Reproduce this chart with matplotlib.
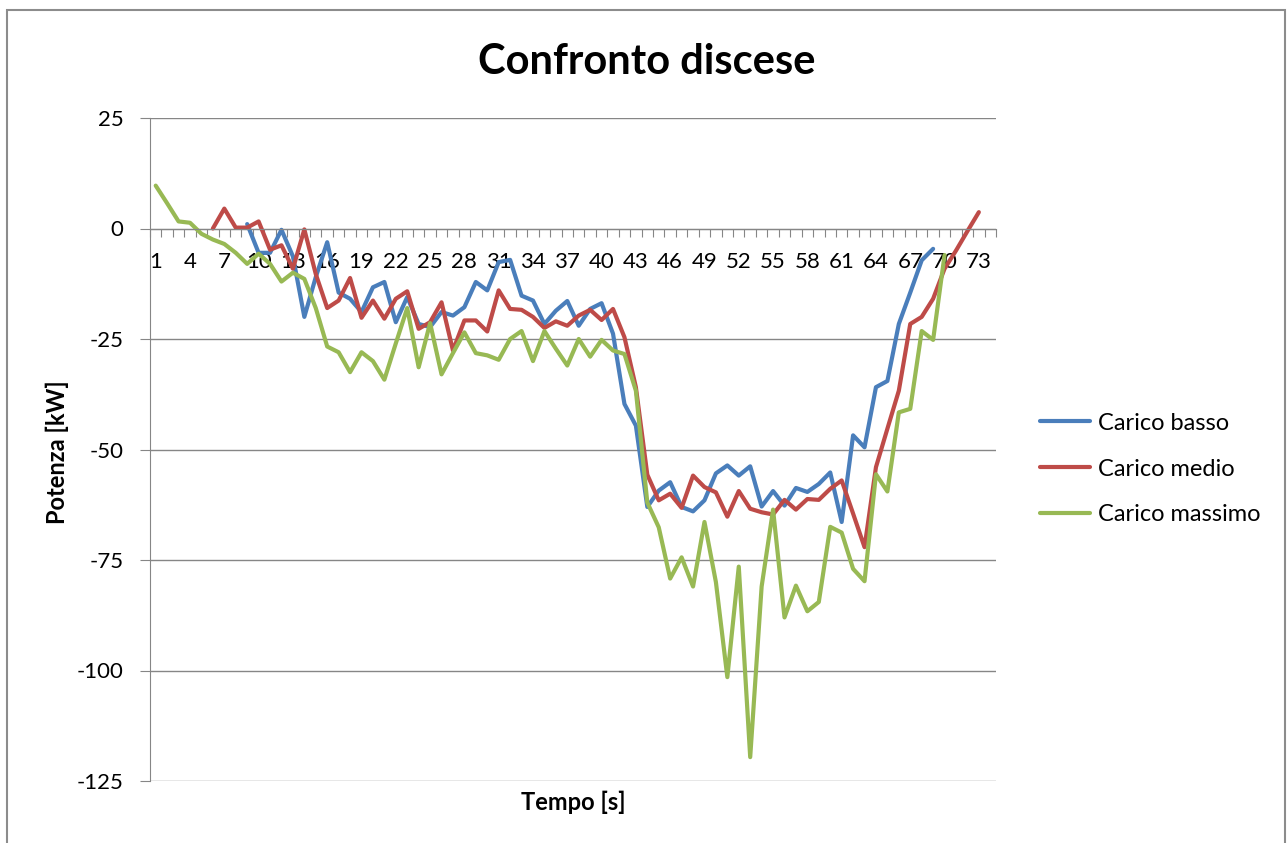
import numpy as np
import matplotlib.pyplot as plt
from matplotlib.patches import Rectangle

plt.rcParams['font.family'] = ['Lato', 'DejaVu Sans']

# categorie dell'asse x (secondi)
tempo = list(range(1, 75))
tick_tempo = list(range(1, 74, 3))

# secondo di partenza di ogni serie
start_basso = 9
start_medio = 6
start_massimo = 1

carico_basso = [
    1, -5.5, -5.5, -0.3, -6.3, -20, -11, -3.1, -14.5, -15.9,
    -18.9, -13.3, -12.1, -21.2, -15.5, -21.6, -22.3, -18.9, -19.7, -17.8,
    -12.1, -14, -7.6, -7.1, -15.2, -16.3, -21.6, -18.6, -16.4, -22,
    -18.2, -16.9, -23.8, -39.7, -44.6, -63, -59.3, -57.4, -63, -64,
    -61.5, -55.4, -53.6, -55.9, -53.8, -62.9, -59.4, -62.7, -58.7, -59.6,
    -57.8, -55.2, -66.4, -46.8, -49.5, -35.9, -34.5, -21.6, -14.5, -7.2,
    -4.6,
]

carico_medio = [
    0, 4.5, 0.2, 0.2, 1.6, -4.8, -3.8, -9.1, -0.2, -10.3,
    -18, -16.3, -11.2, -20.2, -16.3, -20.4, -15.9, -14.2, -22.7, -21.2,
    -16.7, -27.6, -20.8, -20.8, -23.3, -14, -18.2, -18.4, -20, -22.5,
    -21, -22, -19.7, -18.4, -20.7, -18.2, -24.6, -35.9, -55.7, -61.5,
    -60, -63.2, -55.9, -58.5, -59.7, -65.2, -59.4, -63.4, -64.2, -64.7,
    -61.4, -63.6, -61.2, -61.4, -58.9, -57, -64.5, -72.1, -54, -45.3,
    -36.7, -21.6, -20, -15.9, -9.1, -5, -0.6, 3.7,
]

carico_massimo = [
    9.7, 5.7, 1.6, 1.3, -1.2, -2.5, -3.5, -5.5, -8, -5.7,
    -8, -12, -10, -11.4, -18, -26.7, -28, -32.5, -28, -30,
    -34.2, -26, -18, -31.4, -21.4, -33, -28.2, -23.5, -28.2, -28.7,
    -29.7, -25, -23.2, -30, -23.2, -27.2, -31, -25, -29, -25.2,
    -27.6, -28.4, -36.7, -62, -67.6, -79.2, -74.4, -81, -66.4, -80,
    -101.5, -76.5, -119.6, -81, -63.6, -88, -80.8, -86.6, -84.5, -67.5,
    -68.8, -77, -79.8, -55.6, -59.5, -41.6, -40.8, -23.2, -25.2, -6,
]

y_ticks = [25, 0, -25, -50, -75, -100, -125]

COL_BASSO = '#4A7EBB'
COL_MEDIO = '#BE4B48'
COL_MASSIMO = '#98B954'
GRID = '#868686'


def display_lines():
    """
Draws the three descent power curves.
"""
    fig = plt.figure(figsize=(12.88, 8.43), dpi=100)
    ax = fig.add_axes([150 / 1288, 1 - 781 / 843, 846 / 1288, 663 / 843])

    series = [
        ('Carico basso', start_basso, carico_basso, COL_BASSO),
        ('Carico medio', start_medio, carico_medio, COL_MEDIO),
        ('Carico massimo', start_massimo, carico_massimo, COL_MASSIMO),
    ]
    for name, start, vals, col in series:
        x = np.arange(start, start + len(vals))
        ax.plot(x, vals, color=col, lw=3, label=name,
                solid_joinstyle='round', solid_capstyle='round')

    ax.set_xlim(0.5, len(tempo) + 0.5)
    ax.set_ylim(-125, 25)

    # asse x sullo zero, tacche tra le categorie
    for s in ['top', 'right']:
        ax.spines[s].set_visible(False)
    ax.spines['bottom'].set_position(('data', 0))
    ax.spines['bottom'].set_color(GRID)
    ax.spines['left'].set_color(GRID)
    ax.set_xticks(np.arange(0.5, len(tempo) + 1, 1))
    ax.set_xticklabels([])
    ax.tick_params(axis='x', which='major', length=6, color=GRID, direction='out')
    ax.set_xticks(tick_tempo, minor=True)
    ax.set_xticklabels([str(t) for t in tick_tempo], minor=True, fontsize=16)
    ax.tick_params(axis='x', which='minor', length=0, pad=17)

    ax.set_yticks(y_ticks)
    ax.set_yticklabels([str(v) for v in y_ticks], fontsize=16)
    ax.tick_params(axis='y', length=7, color=GRID, pad=12)
    ax.yaxis.grid(True, color=GRID, lw=1)
    ax.set_axisbelow(True)

    fig.text(0.502, 1 - 62 / 843, 'Confronto discese', ha='center', va='center',
             fontsize=30, fontweight='bold')
    fig.text(57 / 1288, 1 - 452 / 843, 'Potenza [kW]', ha='center', va='center',
             rotation=90, fontsize=17, fontweight='bold')
    fig.text(573 / 1288, 1 - 802 / 843, 'Tempo [s]', ha='center', va='center',
             fontsize=17, fontweight='bold')

    fig.legend(loc='center left', bbox_to_anchor=(1040 / 1288, 1 - 469 / 843),
               frameon=False, fontsize=17, handlelength=2.1, handletextpad=0.35,
               labelspacing=1.05, borderpad=0, borderaxespad=0)

    fig.add_artist(Rectangle((7 / 1288, -0.01), 1278 / 1288, 1.01 - 10 / 843,
                             transform=fig.transFigure, fill=False,
                             edgecolor='#8c8c8c', lw=1.5))
    fig.savefig('out.png', dpi=100)


def main():
    """
Entry point.
"""
    display_lines()


if __name__ == "__main__":
    main()
